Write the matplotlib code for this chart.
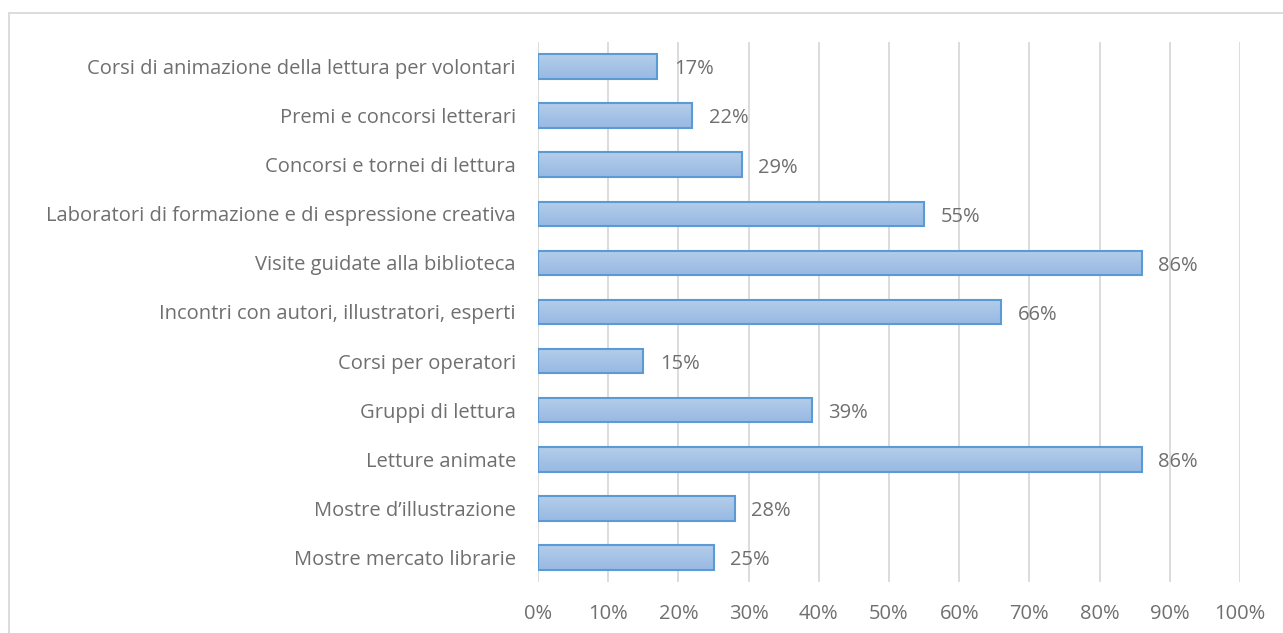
import matplotlib
matplotlib.use("Agg")
import matplotlib.pyplot as plt
import numpy as np
from matplotlib.patches import Rectangle

# Activities offered, listed bottom to top
categories = [
    "Mostre mercato librarie",
    "Mostre d\u2019illustrazione",
    "Letture animate",
    "Gruppi di lettura",
    "Corsi per operatori",
    "Incontri con autori, illustratori, esperti",
    "Visite guidate alla biblioteca",
    "Laboratori di formazione e di espressione creativa",
    "Concorsi e tornei di lettura",
    "Premi e concorsi letterari",
    "Corsi di animazione della lettura per volontari",
]
values = [25, 28, 86, 39, 15, 66, 86, 55, 29, 22, 17]
xticks = list(range(0, 101, 10))

plt.rcParams["font.family"] = ["Open Sans", "DejaVu Sans"]
text_color = "#6f6f6f"
grid_color = "#d9d9d9"
fsize = 14.5

fig = plt.figure(figsize=(12.83, 6.33), dpi=100)
ax = fig.add_axes([538 / 1283, 1 - 582 / 633, 702 / 1283, 540 / 633])

# outer chart frame
fig.patches.append(Rectangle((9 / 1283, -0.05), 1.1, 1 - 13 / 633 + 0.05,
                             transform=fig.transFigure, fill=False,
                             edgecolor=grid_color, linewidth=1.3))

y = np.arange(len(categories))
bar_h = 0.5
grad = np.linspace(0, 1, 64).reshape(-1, 1)
cmap = matplotlib.colors.LinearSegmentedColormap.from_list(
    "barfill", ["#b4cdea", "#98b9e3"])

for yi, v in zip(y, values):
    ax.imshow(grad, cmap=cmap, aspect="auto", origin="upper",
              extent=(0, v, yi - bar_h / 2, yi + bar_h / 2), zorder=2)
    ax.add_patch(Rectangle((0, yi - bar_h / 2), v, bar_h, fill=False,
                           edgecolor="#5b9bd5", linewidth=1.5, zorder=3))
    ax.annotate(f"{v}%", (v, yi), xytext=(12, -2), textcoords="offset points",
                va="center", ha="left", fontsize=fsize, color=text_color,
                zorder=4)

ax.set_xlim(0, 100)
ax.set_ylim(-0.5, len(categories) - 0.5)
ax.set_xticks(xticks)
ax.set_xticklabels([f"{t}%" for t in xticks], fontsize=fsize, color=text_color)
ax.set_yticks(y)
ax.set_yticklabels(categories, fontsize=fsize, color=text_color)
ax.tick_params(axis="both", length=0)
ax.tick_params(axis="x", pad=16)
ax.tick_params(axis="y", pad=16)
ax.grid(axis="x", color=grid_color, linewidth=1.3, zorder=0)
ax.set_axisbelow(True)
for s in ax.spines.values():
    s.set_visible(False)

fig.savefig("out.png", dpi=100)
